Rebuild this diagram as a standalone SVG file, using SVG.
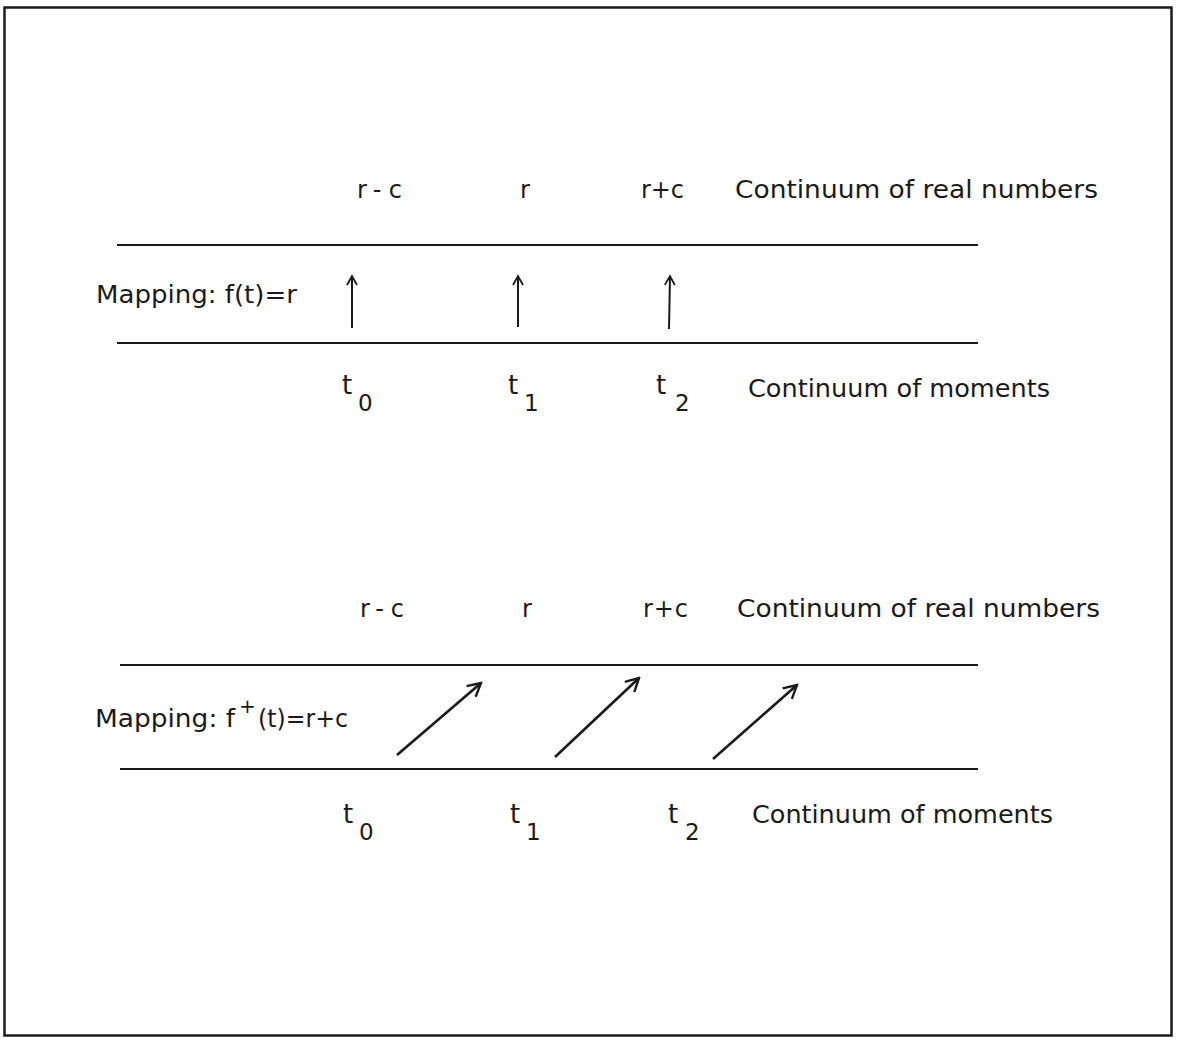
<svg xmlns="http://www.w3.org/2000/svg" width="1186" height="1041" viewBox="0 0 1186 1041">
<defs>
<style>
text{font-family:"DejaVu Sans","Liberation Sans",sans-serif;font-size:24px;fill:#1a1a1a}
.t{font-size:26px}
.sub{font-size:23px}
.ax{stroke:#1a1a1a;stroke-width:2.2;fill:none}
.ar{stroke:#1a1a1a;stroke-width:2;fill:none}
.ard{stroke:#1a1a1a;stroke-width:2.6;fill:none}
</style>
<marker id="open" viewBox="0 0 12 12" refX="10" refY="6" markerWidth="12" markerHeight="12" markerUnits="userSpaceOnUse" orient="auto">
<polyline points="1,1 10,6 1,11" fill="none" stroke="#1a1a1a" stroke-width="1.8"/>
</marker>
<marker id="openD" viewBox="0 0 16 16" refX="14" refY="8" markerWidth="16" markerHeight="16" markerUnits="userSpaceOnUse" orient="auto">
<polyline points="1,1 14,8 1,15" fill="none" stroke="#1a1a1a" stroke-width="2.4"/>
</marker>
</defs>
<rect width="1186" height="1041" fill="#fff"/>
<rect x="4.5" y="7.5" width="1167" height="1028" fill="none" stroke="#1a1a1a" stroke-width="2.5"/>

<g id="top-section">
<g id="top-real-labels">
<text x="357" y="198" textLength="45" lengthAdjust="spacing">r-c</text>
<text x="520" y="198">r</text>
<text x="641" y="198" textLength="43" lengthAdjust="spacing">r+c</text>
<text x="735" y="198" textLength="363" lengthAdjust="spacingAndGlyphs">Continuum of real numbers</text>
</g>
<text id="top-mapping" x="96" y="303" textLength="201" lengthAdjust="spacingAndGlyphs">Mapping: f(t)=r</text>
<g id="top-moment-labels">
<text class="t" x="342" y="394">t</text><text class="sub" x="358" y="411">0</text>
<text class="t" x="508" y="394">t</text><text class="sub" x="524" y="411">1</text>
<text class="t" x="656" y="394">t</text><text class="sub" x="675" y="411">2</text>
<text x="748" y="397" textLength="302" lengthAdjust="spacingAndGlyphs">Continuum of moments</text>
</g>
</g>

<g id="bottom-section">
<g id="bottom-real-labels">
<text x="360" y="617" textLength="44" lengthAdjust="spacing">r-c</text>
<text x="522" y="617">r</text>
<text x="643" y="617" textLength="45" lengthAdjust="spacing">r+c</text>
<text x="737" y="617" textLength="363" lengthAdjust="spacingAndGlyphs">Continuum of real numbers</text>
</g>
<g id="bottom-mapping">
<text x="95" y="727" textLength="140" lengthAdjust="spacingAndGlyphs">Mapping: f</text>
<text x="239" y="713" style="font-size:20px">+</text>
<text x="258" y="727" textLength="90" lengthAdjust="spacingAndGlyphs">(t)=r+c</text>
</g>
<g id="bottom-moment-labels">
<text class="t" x="343" y="823">t</text><text class="sub" x="359" y="840">0</text>
<text class="t" x="510" y="823">t</text><text class="sub" x="526" y="840">1</text>
<text class="t" x="668" y="823">t</text><text class="sub" x="685" y="840">2</text>
<text x="752" y="823" textLength="301" lengthAdjust="spacingAndGlyphs">Continuum of moments</text>
</g>
</g>

<g id="connectors">
<line class="ax" x1="117" y1="245" x2="978" y2="245"/>
<line class="ax" x1="117" y1="343" x2="978" y2="343"/>
<line class="ar" x1="352" y1="328" x2="352" y2="276" marker-end="url(#open)"/>
<line class="ar" x1="518" y1="327" x2="518" y2="276" marker-end="url(#open)"/>
<line class="ar" x1="669" y1="329" x2="670" y2="276" marker-end="url(#open)"/>
<line class="ax" x1="120" y1="665" x2="978" y2="665"/>
<line class="ax" x1="120" y1="769" x2="978" y2="769"/>
<line class="ard" x1="397" y1="755" x2="481" y2="683" marker-end="url(#openD)"/>
<line class="ard" x1="555" y1="757" x2="639" y2="678" marker-end="url(#openD)"/>
<line class="ard" x1="713" y1="759" x2="797" y2="685" marker-end="url(#openD)"/>
</g>
</svg>
